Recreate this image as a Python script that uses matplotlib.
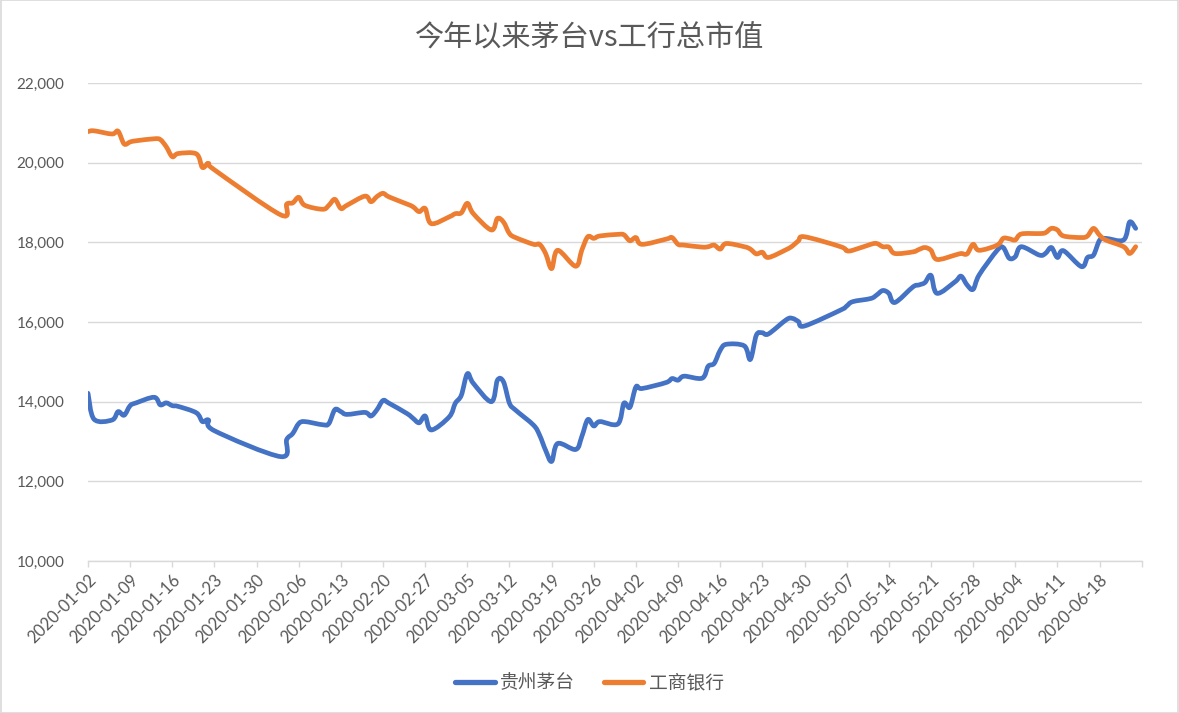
import matplotlib
matplotlib.use("Agg")
import matplotlib.pyplot as plt
import matplotlib.dates as mdates
from matplotlib.patches import Rectangle, PathPatch
from matplotlib.path import Path
from matplotlib.lines import Line2D
import numpy as np
import pandas as pd

# trading days, 2020 H1
dates = [
    "2020-01-02", "2020-01-03", "2020-01-06", "2020-01-07", "2020-01-08", "2020-01-09", "2020-01-10",
    "2020-01-13", "2020-01-14", "2020-01-15", "2020-01-16", "2020-01-17", "2020-01-20", "2020-01-21",
    "2020-01-22", "2020-01-23",
    "2020-02-03", "2020-02-04", "2020-02-05", "2020-02-06", "2020-02-07", "2020-02-10", "2020-02-11",
    "2020-02-12", "2020-02-13", "2020-02-14", "2020-02-17", "2020-02-18", "2020-02-19", "2020-02-20",
    "2020-02-21", "2020-02-24", "2020-02-25", "2020-02-26", "2020-02-27", "2020-02-28",
    "2020-03-02", "2020-03-03", "2020-03-04", "2020-03-05", "2020-03-06", "2020-03-09", "2020-03-10",
    "2020-03-11", "2020-03-12", "2020-03-13", "2020-03-16", "2020-03-17", "2020-03-18", "2020-03-19",
    "2020-03-20", "2020-03-23", "2020-03-24", "2020-03-25", "2020-03-26", "2020-03-27", "2020-03-30",
    "2020-03-31",
    "2020-04-01", "2020-04-02", "2020-04-03", "2020-04-07", "2020-04-08", "2020-04-09", "2020-04-10",
    "2020-04-13", "2020-04-14", "2020-04-15", "2020-04-16", "2020-04-17", "2020-04-20", "2020-04-21",
    "2020-04-22", "2020-04-23", "2020-04-24", "2020-04-27", "2020-04-28", "2020-04-29", "2020-04-30",
    "2020-05-06", "2020-05-07", "2020-05-08", "2020-05-11", "2020-05-12", "2020-05-13", "2020-05-14",
    "2020-05-15", "2020-05-18", "2020-05-19", "2020-05-20", "2020-05-21", "2020-05-22", "2020-05-25",
    "2020-05-26", "2020-05-27", "2020-05-28", "2020-05-29",
    "2020-06-01", "2020-06-02", "2020-06-03", "2020-06-04", "2020-06-05", "2020-06-08", "2020-06-09",
    "2020-06-10", "2020-06-11", "2020-06-12", "2020-06-15", "2020-06-16", "2020-06-17", "2020-06-18",
    "2020-06-19", "2020-06-22", "2020-06-23", "2020-06-24",
]

# 贵州茅台 market cap (亿元)
moutai = [
    14210, 13560, 13540, 13750, 13660, 13900, 13970, 14110, 13920, 13970, 13900, 13880, 13720, 13500,
    13540, 13270,
    12620, 13050, 13200, 13450, 13500, 13420, 13450, 13800, 13750, 13680, 13730, 13640, 13800, 14030,
    13960, 13700, 13580, 13470, 13640, 13290,
    13620, 13960, 14160, 14700, 14460, 14000, 14540, 14500, 13960, 13790, 13410, 13160, 12780, 12500,
    12950, 12800, 13120, 13550, 13390, 13500, 13440, 13960,
    13860, 14370, 14330, 14480, 14580, 14540, 14640, 14590, 14890, 14960, 15290, 15440, 15400, 15060,
    15670, 15730, 15700, 16060, 16090, 16010, 15900,
    16300, 16400, 16510, 16590, 16680, 16790, 16720, 16490, 16880, 16930, 16990, 17170, 16720, 17010,
    17150, 16930, 16820, 17180,
    17800, 17870, 17600, 17640, 17890, 17680, 17720, 17870, 17620, 17790, 17390, 17620, 17680, 18050,
    18100, 18060, 18510, 18350,
]

# 工商银行 market cap (亿元)
icbc = [
    20780, 20800, 20720, 20790, 20470, 20520, 20550, 20600, 20580, 20400, 20150, 20230, 20220, 19880,
    19980, 19820,
    18690, 18960, 18990, 19130, 18930, 18830, 18930, 19080, 18850, 18930, 19160, 19020, 19150, 19230,
    19140, 18960, 18890, 18770, 18850, 18470,
    18640, 18720, 18740, 18980, 18720, 18310, 18600, 18510, 18220, 18120, 17950, 17950, 17720, 17340,
    17800, 17400, 17800, 18140, 18100, 18160, 18200, 18190,
    18040, 18120, 17950, 18080, 18120, 17950, 17930, 17880, 17890, 17930, 17830, 17970, 17890, 17830,
    17710, 17750, 17620, 17820, 17910, 18040, 18140,
    17890, 17790, 17800, 17950, 17970, 17890, 17880, 17720, 17760, 17820, 17870, 17800, 17570, 17680,
    17720, 17710, 17950, 17800,
    17930, 18100, 18090, 18060, 18210, 18220, 18240, 18350, 18310, 18160, 18120, 18160, 18350, 18180,
    18060, 17890, 17720, 17890,
]

names = ["贵州茅台", "工商银行"]
colors = ["#4472C4", "#ED7D31"]
title = "今年以来茅台vs工行总市值"

plt.rcParams['font.family'] = ['Noto Sans CJK SC', 'DejaVu Sans']
grey = "#595959"
gridc = "#D9D9D9"


def smooth_path(xs, ys):
    # Excel style smoothed line: cubic bezier through the points
    p = np.column_stack([xs, ys]).astype(float)
    n = len(p)
    verts = [p[0]]
    codes = [Path.MOVETO]
    for i in range(n - 1):
        p0 = p[i - 1] if i > 0 else p[i]
        p3 = p[i + 2] if i + 2 < n else p[i + 1]
        c1 = p[i] + (p[i + 1] - p0) / 6
        c2 = p[i + 1] - (p3 - p[i]) / 6
        verts += [c1, c2, p[i + 1]]
        codes += [Path.CURVE4] * 3
    return Path(verts, codes)


x = mdates.date2num(pd.to_datetime(dates))

fig = plt.figure(figsize=(11.79, 7.13), dpi=100)
ax = fig.add_axes([88 / 1179, 1 - 561 / 713, (1141.7 - 88) / 1179, 478 / 713])

handles = []
for vals, c, nm in zip([moutai, icbc], colors, names):
    ax.add_patch(PathPatch(smooth_path(x, vals), fill=False, edgecolor=c, lw=3.4,
                           joinstyle="round", capstyle="round", zorder=3))
    handles.append(Line2D([], [], color=c, lw=3.8, solid_capstyle="round", label=nm))

ax.set_ylim(10000, 22000)
ax.set_yticks(np.arange(10000, 22001, 2000))
ax.yaxis.set_major_formatter(matplotlib.ticker.FuncFormatter(lambda v, p: f"{int(v):,}"))
ax.grid(axis="y", color=gridc, lw=1)
ax.set_axisbelow(True)

ticks = pd.date_range("2020-01-02", "2020-06-25", freq="7D")
tnum = mdates.date2num(ticks)
ax.set_xlim(tnum[0], tnum[-1])
ax.set_xticks(tnum)
labels = [t.strftime("%Y-%m-%d") for t in ticks]
labels[-1] = ""
ax.set_xticklabels(labels, rotation=45, ha="right", rotation_mode="anchor")

for s in ["left", "right", "top"]:
    ax.spines[s].set_visible(False)
ax.spines["bottom"].set_color(gridc)
ax.spines["bottom"].set_linewidth(1)

ax.tick_params(axis="x", direction="out", length=4, color=gridc, width=1, pad=4,
               labelsize=12, labelcolor=grey)
ax.tick_params(axis="y", length=0, pad=17, labelsize=11, labelcolor=grey)
for lab in ax.get_xticklabels() + ax.get_yticklabels():
    lab.set_family(["Lato", "DejaVu Sans"])

fig.text(0.5, 1 - 38 / 713, title, ha="center", va="center", fontsize=21, color=grey)

fig.legend(handles=handles, loc="center", bbox_to_anchor=(0.5, 1 - 683 / 713), ncol=2,
           frameon=False, fontsize=13.5, labelcolor=grey, handlelength=2.1,
           columnspacing=1.5, handletextpad=0.3)

fig.patches.append(Rectangle((0.0005, 0.0005), 0.999, 0.999, transform=fig.transFigure,
                             fill=False, edgecolor=gridc, lw=1.2))

fig.savefig("out.png", dpi=100)
